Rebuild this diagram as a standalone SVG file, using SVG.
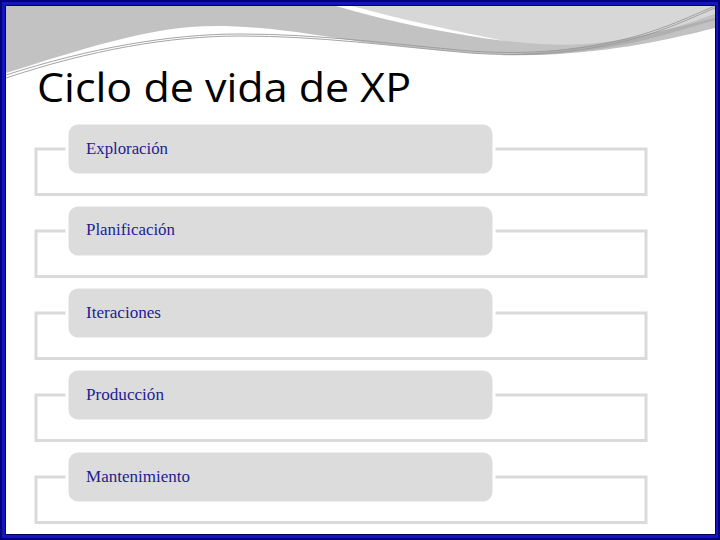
<svg xmlns="http://www.w3.org/2000/svg" width="720" height="540" viewBox="0 0 720 540">
<style>
.outer{fill:none;stroke:#dadada;stroke-width:3}
.inner{fill:#dcdcdc;stroke:#ffffff;stroke-width:3}
.lbl{font-family:"Liberation Serif","DejaVu Serif",serif;font-size:16px;fill:#1c1c92}
.title{font-family:"Open Sans","Liberation Sans",sans-serif;font-size:40px;fill:#000}
.thin{fill:none;stroke:#9a9a9a;stroke-width:0.9}
</style>
<rect x="0" y="0" width="720" height="540" fill="#00007a"/>
<rect x="2" y="2" width="716" height="536" fill="#1515c0"/>
<rect x="5" y="5" width="711" height="530" fill="#00005a"/>
<rect x="6" y="6" width="709" height="528" fill="#ffffff"/>
<g id="decoration">
<path d="M6,6 H715 V28 C660,42 600,54 530,55 C470,55 420,48 370,43 C320,36 270,26 215,26 C150,26 80,50 6,73 Z" fill="#c2c2c2"/>
<path d="M340,6 H715 V14 C680,26 640,40 585,44 C550,46 520,43 500,40 C450,30 400,20 340,6 Z" fill="#d7d7d7"/>
<path d="M336,6 L352,6 C400,19 450,30 505,41 C450,34 390,22 336,6 Z" fill="#ffffff"/>
<path d="M715,20 C680,30 640,44 590,50 C560,54 530,56 500,55 C540,53 580,48 620,40 C660,32 690,24 715,18 Z" fill="#b0b0b0"/>
<path class="thin" d="M6,78 C90,50 170,36 240,36 C320,36 390,46 470,53 C540,58 600,50 650,34 C680,24 700,14 715,8"/>
<path class="thin" d="M6,75 C90,48 170,34 240,34 C320,34 390,44 470,51 C540,56 600,48 650,32 C680,22 700,12 715,6"/>
</g>
<text class="title" x="37" y="102" textLength="374" lengthAdjust="spacingAndGlyphs">Ciclo de vida de XP</text>
<g id="connectors"></g>
<g id="node-exploracion">
<rect class="outer" x="36" y="149" width="610" height="45.5"/>
<rect class="inner" x="67" y="123" width="427" height="52" rx="11"/>
<text class="lbl" x="86" y="154" textLength="82" lengthAdjust="spacingAndGlyphs">Exploración</text>
</g>
<g id="node-planificacion">
<rect class="outer" x="36" y="231" width="610" height="45.5"/>
<rect class="inner" x="67" y="205" width="427" height="52" rx="11"/>
<text class="lbl" x="86" y="235" textLength="89" lengthAdjust="spacingAndGlyphs">Planificación</text>
</g>
<g id="node-iteraciones">
<rect class="outer" x="36" y="313" width="610" height="45.5"/>
<rect class="inner" x="67" y="287" width="427" height="52" rx="11"/>
<text class="lbl" x="86" y="318" textLength="75" lengthAdjust="spacingAndGlyphs">Iteraciones</text>
</g>
<g id="node-produccion">
<rect class="outer" x="36" y="395" width="610" height="45.5"/>
<rect class="inner" x="67" y="369" width="427" height="52" rx="11"/>
<text class="lbl" x="86" y="400" textLength="78" lengthAdjust="spacingAndGlyphs">Producción</text>
</g>
<g id="node-mantenimiento">
<rect class="outer" x="36" y="477" width="610" height="45.5"/>
<rect class="inner" x="67" y="451" width="427" height="52" rx="11"/>
<text class="lbl" x="86" y="482" textLength="104" lengthAdjust="spacingAndGlyphs">Mantenimiento</text>
</g>
</svg>
